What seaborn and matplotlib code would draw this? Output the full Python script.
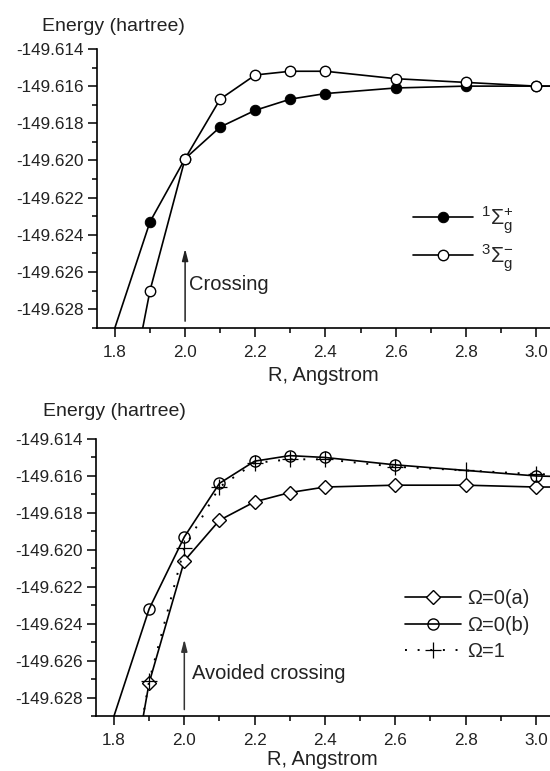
import matplotlib
matplotlib.use('Agg')
import matplotlib.pyplot as plt
import seaborn as sns
from matplotlib.ticker import MultipleLocator, FormatStrFormatter

# top panel: 1Sigma_g+ and 3Sigma_g- curves
r_plus = [1.7, 1.9, 2.0, 2.1, 2.2, 2.3, 2.4, 2.6, 2.8, 3.0, 3.2]
e_plus = [-149.6347, -149.6233, -149.6199, -149.6182, -149.6173, -149.6167,
          -149.6164, -149.6161, -149.6160, -149.6160, -149.6160]
r_minus = [1.8, 1.9, 2.0, 2.1, 2.2, 2.3, 2.4, 2.6, 2.8, 3.0, 3.2]
e_minus = [-149.6367, -149.6270, -149.6199, -149.6167, -149.6154, -149.6152,
           -149.6152, -149.6156, -149.6158, -149.6160, -149.6160]

# bottom panel: Omega states
r_om0a = [1.8, 1.9, 2.0, 2.1, 2.2, 2.3, 2.4, 2.6, 2.8, 3.0, 3.2]
e_om0a = [-149.6380, -149.6272, -149.6206, -149.6184, -149.6174, -149.6169,
          -149.6166, -149.6165, -149.6165, -149.6166, -149.6166]
r_om0b = [1.7, 1.9, 2.0, 2.1, 2.2, 2.3, 2.4, 2.6, 3.0, 3.2]
e_om0b = [-149.6348, -149.6232, -149.6193, -149.6164, -149.6152, -149.6149,
          -149.6150, -149.6154, -149.6160, -149.6161]
r_om1 = [1.8, 1.9, 2.0, 2.1, 2.2, 2.3, 2.4, 2.6, 2.8, 3.0, 3.2]
e_om1 = [-149.6380, -149.6271, -149.6199, -149.6166, -149.6153, -149.6151,
         -149.6151, -149.6155, -149.6157, -149.6159, -149.6160]

sns.set_style('ticks')
plt.rcParams['font.family'] = ['Liberation Sans', 'DejaVu Sans']
plt.rcParams['mathtext.fontset'] = 'custom'
plt.rcParams['mathtext.rm'] = 'Liberation Sans'
plt.rcParams['mathtext.it'] = 'Liberation Sans:italic'
plt.rcParams['mathtext.sf'] = 'Liberation Sans'

fig = plt.figure(figsize=(5.5, 7.71), dpi=100)
ax1 = fig.add_axes([0.1758, 0.5750, 0.8242, 0.3615])
ax2 = fig.add_axes([0.1740, 0.0713, 0.8260, 0.3593])


def style_axes(ax, lpad):
    ax.set_xlim(1.748, 3.04)
    ax.set_ylim(-149.629, -149.614)
    ax.xaxis.set_major_locator(MultipleLocator(0.2))
    ax.xaxis.set_minor_locator(MultipleLocator(0.1))
    ax.yaxis.set_major_locator(MultipleLocator(0.002))
    ax.yaxis.set_minor_locator(MultipleLocator(0.001))
    ax.xaxis.set_major_formatter(FormatStrFormatter('%.1f'))
    ax.yaxis.set_major_formatter(FormatStrFormatter('%.3f'))
    ax.tick_params(which='major', direction='out', length=6.5, width=1.1,
                   labelsize=12.3, color='black', labelcolor='#222222', pad=3)
    ax.tick_params(axis='x', which='major', pad=6)
    ax.tick_params(which='minor', direction='out', length=3.5, width=1.1,
                   color='black')
    for s in ['top', 'right']:
        ax.spines[s].set_visible(False)
    for s in ['left', 'bottom']:
        ax.spines[s].set_linewidth(1.2)
        ax.spines[s].set_color('black')
    ax.set_xlabel('R, Angstrom', fontsize=14.5, color='#222222', labelpad=lpad)


# ---- top panel
sns.lineplot(x=r_plus, y=e_plus, ax=ax1, color='black', lw=1.2, marker='o',
             markersize=7.5, markerfacecolor='black', markeredgecolor='black',
             label=r'${}^{1}\Sigma_{\mathrm{g}}^{+}$')
sns.lineplot(x=r_minus, y=e_minus, ax=ax1, color='black', lw=1.2, marker='o',
             markersize=7.5, markerfacecolor='white', markeredgecolor='black',
             markeredgewidth=1.0, label=r'${}^{3}\Sigma_{\mathrm{g}}^{-}$')
style_axes(ax1, 4.5)
ax1.set_ylabel('Energy (hartree)', rotation=0, ha='left', va='center',
               fontsize=14, color='#222222')
ax1.yaxis.set_label_coords(-0.1207, 1.082)
ax1.annotate('', xy=(2.0, -149.6246), xytext=(2.0, -149.6288),
             arrowprops=dict(arrowstyle='-|>,head_length=0.7,head_width=0.18',
                             color='#222222', lw=1.1))
ax1.text(2.01, -149.6267, 'Crossing', fontsize=14.5, color='#222222',
         ha='left', va='center')
ax1.legend(loc='upper left', bbox_to_anchor=(0.7504, 0.735),
           bbox_transform=fig.transFigure, frameon=False, fontsize=15.5,
           handlelength=2.8, handletextpad=0.35, labelspacing=0.3,
           borderpad=0, borderaxespad=0)

# ---- bottom panel
sns.lineplot(x=r_om0a, y=e_om0a, ax=ax2, color='black', lw=1.2, marker='D',
             markersize=7, markerfacecolor='white', markeredgecolor='black',
             markeredgewidth=1.0, label='Ω=0(a)')
sns.lineplot(x=r_om0b, y=e_om0b, ax=ax2, color='black', lw=1.2, marker='o',
             markersize=8, markerfacecolor='none', markeredgecolor='black',
             markeredgewidth=1.0, label='Ω=0(b)')
sns.lineplot(x=r_om1, y=e_om1, ax=ax2, color='black', lw=1.4,
             linestyle=(0, (1, 5.5)), marker='+', markersize=12,
             markeredgewidth=0.9, markeredgecolor='black', label='Ω=1')
style_axes(ax2, 1.5)
ax2.set_ylabel('Energy (hartree)', rotation=0, ha='left', va='center',
               fontsize=14, color='#222222')
ax2.yaxis.set_label_coords(-0.1165, 1.098)
ax2.annotate('', xy=(2.0, -149.6247), xytext=(2.0, -149.6288),
             arrowprops=dict(arrowstyle='-|>,head_length=0.7,head_width=0.18',
                             color='#333333', lw=1.1))
ax2.text(2.022, -149.6267, 'Avoided crossing', fontsize=14.5,
         color='#222222', ha='left', va='center')
ax2.legend(loc='upper left', bbox_to_anchor=(0.7364, 0.236),
           bbox_transform=fig.transFigure, frameon=False, fontsize=14.5,
           handlelength=2.8, handletextpad=0.3, labelspacing=0.38,
           borderpad=0, borderaxespad=0)

fig.savefig('out.png', dpi=100)
